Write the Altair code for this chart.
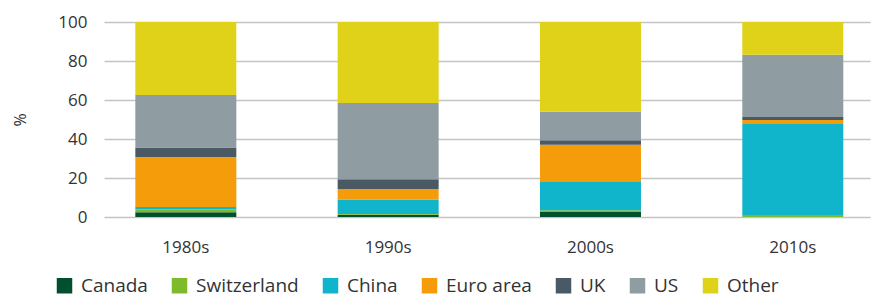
import altair as alt
import pandas as pd

decades = ["1980s", "1990s", "2000s", "2010s"]
regions = ["Canada", "Switzerland", "China", "Euro area", "UK", "US", "Other"]
colors = ["#00502f", "#7fba2b", "#10b5cc", "#f59c0a", "#495a65", "#8f9da3", "#dfd219"]

canada = [2.5, 1.2, 2.6, 0.0]
switzerland = [1.4, 0.3, 0.9, 1.0]
china = [1.2, 7.4, 14.8, 46.7]
euro = [25.7, 5.4, 18.7, 2.0]
uk = [4.8, 5.0, 2.4, 1.6]
us = [27.0, 39.2, 14.6, 31.9]
other = [37.4, 41.5, 46.0, 16.8]

series = [canada, switzerland, china, euro, uk, us, other]
rows = []
for i, (name, vals) in enumerate(zip(regions, series)):
    for d, v in zip(decades, vals):
        rows.append({"decade": d, "region": name, "value": v, "idx": i})
df = pd.DataFrame(rows)

FONT = "Open Sans"
TXT = "#333333"

chart = alt.Chart(df).mark_bar(size=101).encode(
    x=alt.X("decade:N", sort=decades, title=None,
            scale=alt.Scale(paddingInner=0.5, paddingOuter=0.143, align=0.54),
            axis=alt.Axis(labelAngle=0, domain=False, ticks=False, grid=False,
                          labelPadding=22, labelFontSize=17, labelColor=TXT, labelFont=FONT)),
    y=alt.Y("value:Q", stack="zero", title="%",
            scale=alt.Scale(domain=[0, 100]),
            axis=alt.Axis(values=[0, 20, 40, 60, 80, 100], domain=False, ticks=False,
                          grid=True, gridColor="#c4c4c4", gridWidth=1.5,
                          labelPadding=17, labelFontSize=17, labelColor=TXT, labelFont=FONT,
                          titleFont=FONT, titleFontSize=16, titleColor=TXT, titleFontWeight="normal",
                          titleAngle=-90, titlePadding=29)),
    color=alt.Color("region:N", sort=regions,
                    scale=alt.Scale(domain=regions, range=colors),
                    legend=alt.Legend(title=None, orient="none", direction="horizontal",
                                      legendX=-49, legendY=254, columns=7,
                                      symbolType="square", symbolSize=240, symbolStrokeWidth=0,
                                      symbolOpacity=1,
                                      labelFontSize=19, labelFont=FONT, labelColor=TXT,
                                      columnPadding=22, labelOffset=7)),
    order=alt.Order("idx:Q", sort="ascending"),
).properties(
    width=766, height=195,
    padding={"left": 96, "top": 14, "right": 4, "bottom": 90},
    autosize=alt.AutoSizeParams(type="none"),
).configure_view(stroke=None)

chart.save("out.html", embed_options={"renderer": "svg", "actions": False})
